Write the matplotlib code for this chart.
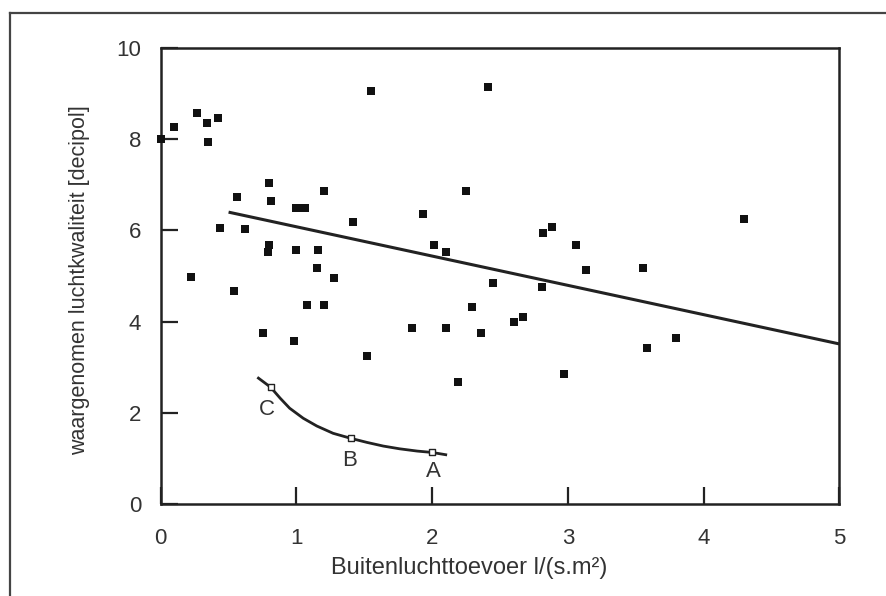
import matplotlib.pyplot as plt
from matplotlib.lines import Line2D

plt.rcParams['font.family'] = ['Liberation Sans', 'DejaVu Sans']

# measured points: outdoor air supply vs perceived air quality
flow = [0.00, 0.10, 0.27, 0.34, 0.35, 0.42, 0.22, 0.44, 0.56, 0.62, 0.54,
        0.75, 0.80, 0.81, 0.80, 0.79, 1.00, 1.03, 1.06, 1.00, 0.98, 1.08,
        1.16, 1.15, 1.20, 1.20, 1.28, 1.42, 1.55, 1.52, 1.85, 1.93, 2.01,
        2.10, 2.10, 2.19, 2.25, 2.29, 2.36, 2.41, 2.45, 2.60, 2.67, 2.81,
        2.82, 2.88, 2.97, 3.06, 3.13, 3.55, 3.58, 3.80, 4.30]
quality = [8.00, 8.26, 8.57, 8.36, 7.94, 8.46, 4.98, 6.05, 6.74, 6.04, 4.67,
           3.76, 7.03, 6.64, 5.68, 5.53, 6.49, 6.49, 6.49, 5.57, 3.57, 4.37,
           5.57, 5.17, 6.86, 4.37, 4.96, 6.18, 9.06, 3.24, 3.86, 6.35, 5.68,
           5.53, 3.86, 2.67, 6.87, 4.32, 3.75, 9.14, 4.84, 3.99, 4.10, 4.76,
           5.95, 6.07, 2.85, 5.68, 5.13, 5.18, 3.42, 3.64, 6.24]

# regression line (end points)
fit_x = [0.50, 5.00]
fit_y = [6.40, 3.51]

# design curve through C, B, A
curve_x = [0.72, 0.81, 0.88, 0.95, 1.05, 1.15, 1.27, 1.40, 1.52, 1.64,
           1.76, 1.89, 2.00, 2.10]
curve_y = [2.76, 2.56, 2.32, 2.10, 1.88, 1.71, 1.55, 1.44, 1.35, 1.27,
           1.21, 1.16, 1.13, 1.08]
design_labels = ['C', 'B', 'A']
design_x = [0.81, 1.40, 2.00]
design_y = [2.56, 1.44, 1.13]
label_x = [0.78, 1.39, 2.01]
label_y = [2.08, 0.95, 0.72]

ink = '#222222'
text_col = '#333333'

fig = plt.figure(figsize=(8.86, 5.96), dpi=100)
ax = fig.add_axes([0.1814, 0.1544, 0.7659, 0.7651])

ax.plot(fit_x, fit_y, color=ink, lw=2.2, solid_capstyle='butt')
ax.plot(curve_x, curve_y, color=ink, lw=2.0, solid_joinstyle='round')
ax.scatter(flow, quality, marker='s', s=28, color='#111111', linewidths=0,
           zorder=3, clip_on=False)
ax.scatter(design_x, design_y, marker='s', s=24, facecolor='white',
           edgecolor=ink, linewidths=1.0, zorder=4)
for lab, lx, ly in zip(design_labels, label_x, label_y):
    ax.text(lx, ly, lab, fontsize=16, color=text_col, ha='center', va='center')

ax.set_xlim(0, 5)
ax.set_ylim(0, 10)
ax.set_xticks(range(0, 6))
ax.set_yticks(range(0, 11, 2))

for side in ['top', 'right', 'bottom', 'left']:
    ax.spines[side].set_linewidth(1.8)
    ax.spines[side].set_color(ink)

ax.tick_params(direction='in', length=12, width=1.6, color=ink,
               labelsize=16, labelcolor=text_col, top=False, right=False)
ax.tick_params(axis='x', pad=17)
ax.tick_params(axis='y', pad=14)

ax.set_xlabel('Buitenluchttoevoer l/(s.m²)', fontsize=17, color=text_col)
ax.set_ylabel('waargenomen luchtkwaliteit [decipol]', fontsize=15.5, color=text_col)
ax.xaxis.set_label_coords(0.454, -0.141)
ax.xaxis.label.set_verticalalignment('center')
ax.yaxis.set_label_coords(-0.120, 0.49)
ax.yaxis.label.set_verticalalignment('center')

# outer frame of the scanned page
fig.add_artist(Line2D([0.0113, 0.0113], [0.0, 0.978], color='#444444', lw=1.6))
fig.add_artist(Line2D([0.0113, 1.0], [0.978, 0.978], color='#444444', lw=1.6))

fig.savefig('out.png', dpi=100)
